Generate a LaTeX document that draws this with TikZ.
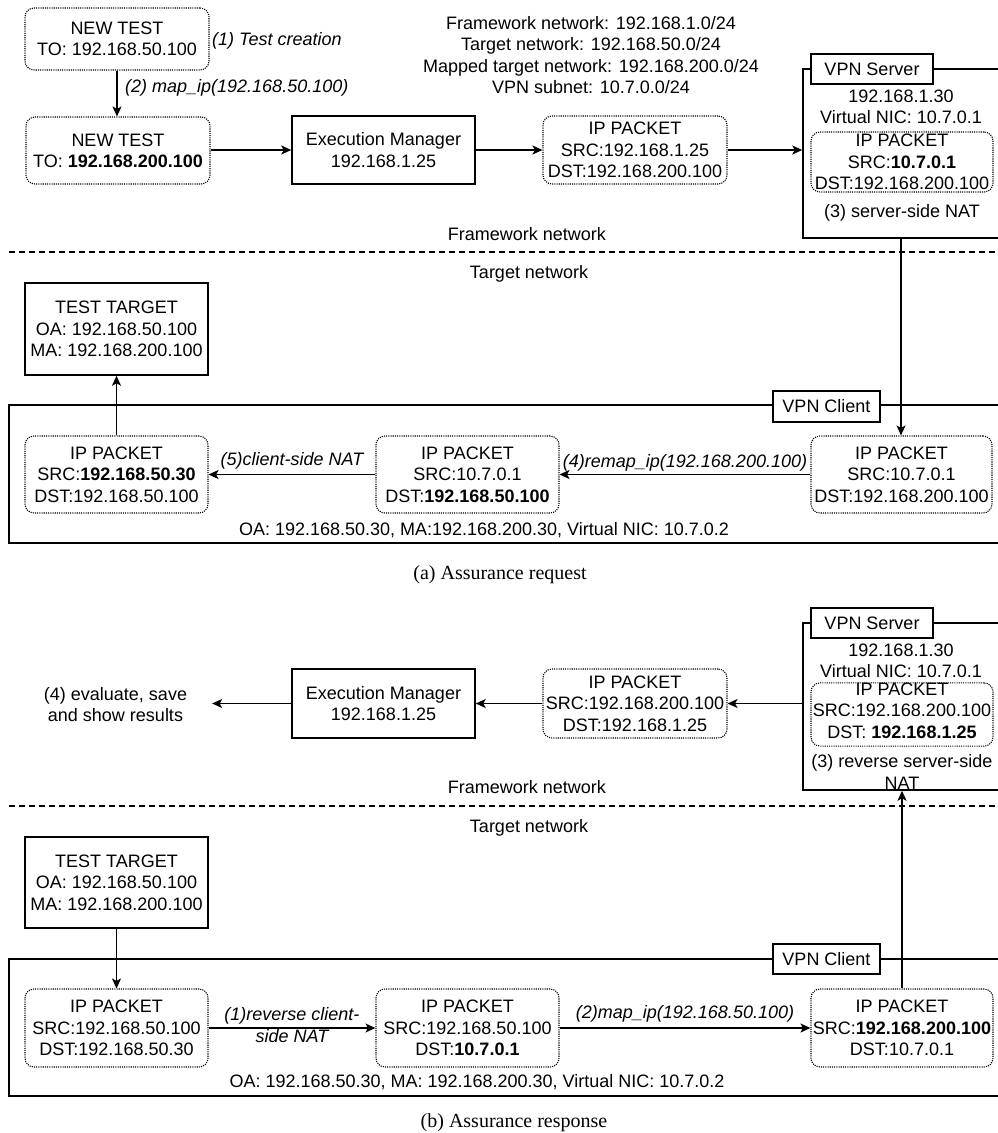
\documentclass[tikz,border=0pt]{standalone}
\usepackage{fontspec}
\setmainfont{Liberation Sans}
\newfontfamily\capfont{Liberation Serif}
\usetikzlibrary{arrows.meta}
\newcommand\dfont{\fontsize{18}{21.3}\selectfont}
\begin{document}
\begin{tikzpicture}[x=1pt,y=-1pt,
  every node/.style={font=\dfont, inner sep=0pt, align=center},
  sbox/.style={draw, line width=1.5pt},
  lab/.style={draw, line width=1.5pt, fill=white},
  pkt/.style={draw, line width=1.1pt, dash pattern=on 1.1pt off 1.1pt, rounded corners=9pt},
  arr/.style={line width=1.5pt, -{Stealth[length=10pt,width=9pt,inset=2.5pt]}},
  lbl/.style={font=\dfont\itshape},
  sepline/.style={line width=1.1pt, dash pattern=on 6pt off 4pt},
  captxt/.style={font=\capfont\fontsize{20}{24}\selectfont}]
\useasboundingbox (0,0) rectangle (997,1133);

% ================= (a) =================
\node[pkt, minimum width=184pt, minimum height=62pt] (nt1) at (117,39) {NEW TEST\\TO: 192.168.50.100};
\node[lbl, anchor=base west] (l1) at (212,45) {(1) Test creation};
\node[pkt, minimum width=184pt, minimum height=67pt] (nt2) at (118,150.5) {NEW TEST\\TO: \textbf{192.168.200.100}};
\node[lbl, anchor=base west] (l2) at (125,92) {(2) map\_ip(192.168.50.100)};
\node[sbox, minimum width=183pt, minimum height=68pt] (em1) at (383.5,150) {Execution Manager\\192.168.1.25};
\node[pkt, minimum width=184pt, minimum height=68pt] (pk1) at (635,150) {IP PACKET\\SRC:192.168.1.25\\DST:192.168.200.100};
\node (info) at (591,55) {Framework network: 192.168.1.0/24\\Target network: 192.168.50.0/24\\Mapped target network: 192.168.200.0/24\\VPN subnet: 10.7.0.0/24};

\node[sbox, minimum width=196pt, minimum height=169pt] (srv1) at (901,153.5) {};
\node[lab, minimum width=122pt, minimum height=30pt] (srvlab1) at (872,69) {VPN Server};
\node (srvtxt1) at (901,107) {192.168.1.30\\Virtual NIC: 10.7.0.1};
\node[pkt, minimum width=182pt, minimum height=60pt] (srvpk1) at (902,162) {IP PACKET\\SRC:\textbf{10.7.0.1}\\DST:192.168.200.100};
\node[anchor=base] (nat1) at (902,217) {(3) server-side NAT};

\draw[arr] (nt1.south) -- (nt1.south |- nt2.north);
\draw[arr] (nt2.east |- em1.west) -- (em1.west);
\draw[arr] (em1.east) -- (pk1.west);
\draw[arr] (pk1.east) -- (pk1.east -| srv1.west);

\node[anchor=base] (fw1) at (527,240) {Framework network};
\draw[sepline] (9,252) -- (999,252);
\node[anchor=base] (tn1) at (529,278) {Target network};

\node[sbox, minimum width=183pt, minimum height=92pt] (tt1) at (116.5,329) {TEST TARGET\\OA: 192.168.50.100\\MA: 192.168.200.100};
\node[sbox, minimum width=990pt, minimum height=138pt] (vc1) at (504,474) {};
\node[lab, minimum width=107pt, minimum height=31pt] (vclab1) at (826.5,406.5) {VPN Client};
\node[pkt, minimum width=183pt, minimum height=77pt] (cp1) at (116.5,474.5) {IP PACKET\\SRC:\textbf{192.168.50.30}\\DST:192.168.50.100};
\node[pkt, minimum width=183pt, minimum height=77pt] (cp2) at (467.5,474.5) {IP PACKET\\SRC:10.7.0.1\\DST:\textbf{192.168.50.100}};
\node[pkt, minimum width=181pt, minimum height=77pt] (cp3) at (901.5,474.5) {IP PACKET\\SRC:10.7.0.1\\DST:192.168.200.100};
\node[anchor=base] (oa1) at (484,535) {OA: 192.168.50.30, MA:192.168.200.30, Virtual NIC: 10.7.0.2};

\draw[arr] (srv1.south) -- (srv1.south |- cp3.north);
\draw[arr] (cp3.west) -- node[lbl, anchor=base, yshift=7pt] {(4)remap\_ip(192.168.200.100)} (cp2.east);
\draw[arr] (cp2.west) -- node[lbl, anchor=base, yshift=9pt] {(5)client-side NAT} (cp1.east);
\draw[arr] (cp1.north) -- (tt1.south);

\node[captxt, anchor=base] (capa) at (500,579) {(a) Assurance request};

% ================= (b) =================
\node[minimum width=193pt] (res) at (115.5,704.5) {(4) evaluate, save\\and show results};
\node[sbox, minimum width=183pt, minimum height=69pt] (em2) at (383.5,703.5) {Execution Manager\\192.168.1.25};
\node[pkt, minimum width=184pt, minimum height=69pt] (pk2) at (635,703.5) {IP PACKET\\SRC:192.168.200.100\\DST:192.168.1.25};

\node[sbox, minimum width=196pt, minimum height=167pt] (srv2) at (901,706.5) {};
\node[lab, minimum width=122pt, minimum height=30pt] (srvlab2) at (872,623) {VPN Server};
\node (srvtxt2) at (901,661) {192.168.1.30\\Virtual NIC: 10.7.0.1};
\node[pkt, minimum width=182pt, minimum height=63pt] (srvpk2) at (902,714.5) {IP PACKET\\SRC:192.168.200.100\\DST: \textbf{192.168.1.25}\rule[-8pt]{0pt}{8pt}};
\node (nat2) at (902,772) {(3) reverse server-side\\NAT};

\draw[arr] (srv2.west |- pk2.east) -- (pk2.east);
\draw[arr] (pk2.west) -- (em2.east);
\draw[arr] (em2.west) -- (em2.west -| res.east);

\node[anchor=base] (fw2) at (527,793) {Framework network};
\draw[sepline] (9,806) -- (999,806);
\node[anchor=base] (tn2) at (529,832) {Target network};

\node[sbox, minimum width=183pt, minimum height=91pt] (tt2) at (116.5,882.5) {TEST TARGET\\OA: 192.168.50.100\\MA: 192.168.200.100};
\node[sbox, minimum width=990pt, minimum height=137pt] (vc2) at (504,1027.5) {};
\node[lab, minimum width=107pt, minimum height=30pt] (vclab2) at (826.5,959) {VPN Client};
\node[pkt, minimum width=183pt, minimum height=78pt] (cq1) at (116.5,1028) {IP PACKET\\SRC:192.168.50.100\\DST:192.168.50.30};
\node[pkt, minimum width=183pt, minimum height=78pt] (cq2) at (467.5,1028) {IP PACKET\\SRC:192.168.50.100\\DST:\textbf{10.7.0.1}};
\node[pkt, minimum width=182pt, minimum height=78pt] (cq3) at (902,1028) {IP PACKET\\SRC:\textbf{192.168.200.100}\\DST:10.7.0.1};
\node[anchor=base] (oa2) at (477,1087) {OA: 192.168.50.30, MA: 192.168.200.30, Virtual NIC: 10.7.0.2};

\draw[arr] (tt2.south) -- (cq1.north);
\draw[arr] (cq1.east) -- node[lbl, yshift=3pt] {(1)reverse client-\\side NAT} (cq2.west);
\draw[arr] (cq2.east) -- node[lbl, anchor=base, yshift=10pt] {(2)map\_ip(192.168.50.100)} (cq3.west);
\draw[arr] (cq3.north) -- (cq3.north |- srv2.south);

\node[captxt, anchor=base] (capb) at (514,1127) {(b) Assurance response};
\end{tikzpicture}
\end{document}
